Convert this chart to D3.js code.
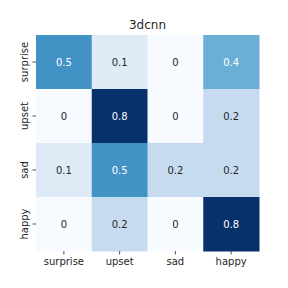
<!DOCTYPE html>
<html><head><meta charset="utf-8">
<script src="https://cdn.jsdelivr.net/npm/d3@7"></script>
<style>body{margin:0;background:#fff}svg{display:block}text{font-family:"DejaVu Sans",sans-serif}</style>
</head><body>
<script>
const title = "3dcnn";
const rowLabels = ["surprise","upset","sad","happy"];
const colLabels = ["surprise","upset","sad","happy"];
const values = [
  [0.5, 0.1, 0, 0.4],
  [0, 0.8, 0, 0.2],
  [0.1, 0.5, 0.2, 0.2],
  [0, 0.2, 0, 0.8]
];
const blues = ["#f7fbff","#deebf7","#c6dbef","#9ecae1","#6baed6","#4292c6","#2171b5","#08519c","#08306b"];

const W = 288, H = 288;
const m = {left:36, right:29, top:35, bottom:37};
const svg = d3.select("body").append("svg").attr("width",W).attr("height",H);
const x = d3.scaleBand().domain(colLabels).range([m.left, W-m.right]);
const y = d3.scaleBand().domain(rowLabels).range([m.top, H-m.bottom]);
const vmax = d3.max(values.flat());
const color = d3.scaleLinear().domain(blues.map((_,i)=>i/(blues.length-1)*vmax)).range(blues);

const cells = [];
values.forEach((row,i)=>row.forEach((v,j)=>cells.push({r:rowLabels[i], c:colLabels[j], v})));

svg.selectAll("rect.cell").data(cells).join("rect")
  .attr("x",d=>x(d.c)).attr("y",d=>y(d.r))
  .attr("width",x.bandwidth()+0.5).attr("height",y.bandwidth()+0.5)
  .attr("fill",d=>color(d.v));

function lum(c){const r=d3.rgb(c);const f=v=>{v/=255;return v<=0.03928?v/12.92:Math.pow((v+0.055)/1.055,2.4)};return 0.2126*f(r.r)+0.7152*f(r.g)+0.0722*f(r.b);}
svg.selectAll("text.ann").data(cells).join("text")
  .attr("x",d=>x(d.c)+x.bandwidth()/2).attr("y",d=>y(d.r)+y.bandwidth()/2)
  .attr("text-anchor","middle").attr("dominant-baseline","central")
  .attr("font-size",10)
  .attr("fill",d=>lum(color(d.v))>0.408?"#262626":"#ffffff")
  .text(d=>d3.format("")(d.v));

const xa = svg.append("g").attr("transform",`translate(0,${H-m.bottom})`)
  .call(d3.axisBottom(x).tickSize(3.5).tickPadding(3.5));
xa.select(".domain").remove();
xa.selectAll("line").attr("stroke","#262626").attr("stroke-width",0.8);
xa.selectAll("text").attr("font-size",10).attr("fill","#262626").attr("font-family","DejaVu Sans");

const ya = svg.append("g").attr("transform",`translate(${m.left},0)`)
  .call(d3.axisLeft(y).tickSize(3.5).tickPadding(3.5));
ya.select(".domain").remove();
ya.selectAll("line").attr("stroke","#262626").attr("stroke-width",0.8);
ya.selectAll("text").attr("font-size",10).attr("fill","#262626").attr("font-family","DejaVu Sans")
  .attr("transform","rotate(-90)").attr("text-anchor","middle").attr("x",0).attr("dy",0)
  .attr("y",-8);

svg.append("text").attr("x",(m.left+W-m.right)/2).attr("y",29)
  .attr("text-anchor","middle").attr("font-size",12).attr("fill","#262626").text(title);
</script>
</body></html>
